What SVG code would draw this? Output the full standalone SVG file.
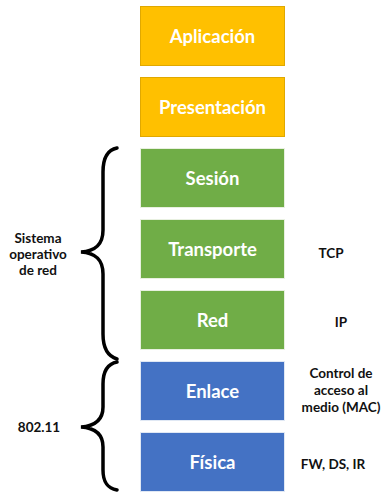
<svg xmlns="http://www.w3.org/2000/svg" width="383" height="492" viewBox="0 0 383 492">
<style>
.box{stroke-width:1}
.y{fill:#FFC000;stroke:#E0A800}
.g{fill:#70AD47;stroke:#E8F0E0}
.b{fill:#4472C4;stroke:#E0E8F4}
.t{font-family:Lato,"Open Sans",sans-serif;font-weight:bold;font-size:18.5px;fill:#fff;text-anchor:middle}
.s{font-family:Lato,"Open Sans",sans-serif;font-weight:bold;font-size:13.5px;fill:#111;text-anchor:middle}
.br{fill:none;stroke:#000;stroke-width:3.5;stroke-linecap:round}
</style>
<rect width="383" height="492" fill="#fff"/>
<g id="aplicacion"><rect class="box y" x="140.5" y="6.5" width="144" height="59"/><text class="t" x="212.5" y="43">Aplicación</text></g>
<g id="presentacion"><rect class="box y" x="140.5" y="77.5" width="144" height="59"/><text class="t" x="212.5" y="114">Presentación</text></g>
<g id="sesion"><rect class="box g" x="140.5" y="148.5" width="144" height="59"/><text class="t" x="212.5" y="185">Sesión</text></g>
<g id="transporte"><rect class="box g" x="140.5" y="219.5" width="144" height="59"/><text class="t" x="212.5" y="256">Transporte</text></g>
<g id="red"><rect class="box g" x="140.5" y="290.5" width="144" height="59"/><text class="t" x="212.5" y="327">Red</text></g>
<g id="enlace"><rect class="box b" x="140.5" y="361.5" width="144" height="59"/><text class="t" x="212.5" y="398">Enlace</text></g>
<g id="fisica"><rect class="box b" x="140.5" y="432.5" width="144" height="59"/><text class="t" x="212.5" y="469">Física</text></g>
<g id="braces">
<path class="br" d="M117,148 C107,150 103,158 103,172 L103,230 C103,245 95,251 81,252 C95,253 103,259 103,274 L103,334 C103,348 107,356 117,359"/>
<path class="br" d="M117,362 C107,364 103,372 103,384 L103,407 C103,420 95,426 81,427 C95,428 103,434 103,447 L103,470 C103,482 107,488 117,490"/>
</g>
<g id="labels">
<text class="s" x="38" y="243">Sistema</text>
<text class="s" x="38" y="259">operativo</text>
<text class="s" x="38" y="275">de red</text>
<text class="s" x="331" y="258">TCP</text>
<text class="s" x="341" y="327">IP</text>
<text class="s" x="341" y="378">Control de</text>
<text class="s" x="341" y="395">acceso al</text>
<text class="s" x="341" y="412">medio (MAC)</text>
<text class="s" x="39" y="432">802.11</text>
<text class="s" x="333" y="469">FW, DS, IR</text>
</g>
</svg>
